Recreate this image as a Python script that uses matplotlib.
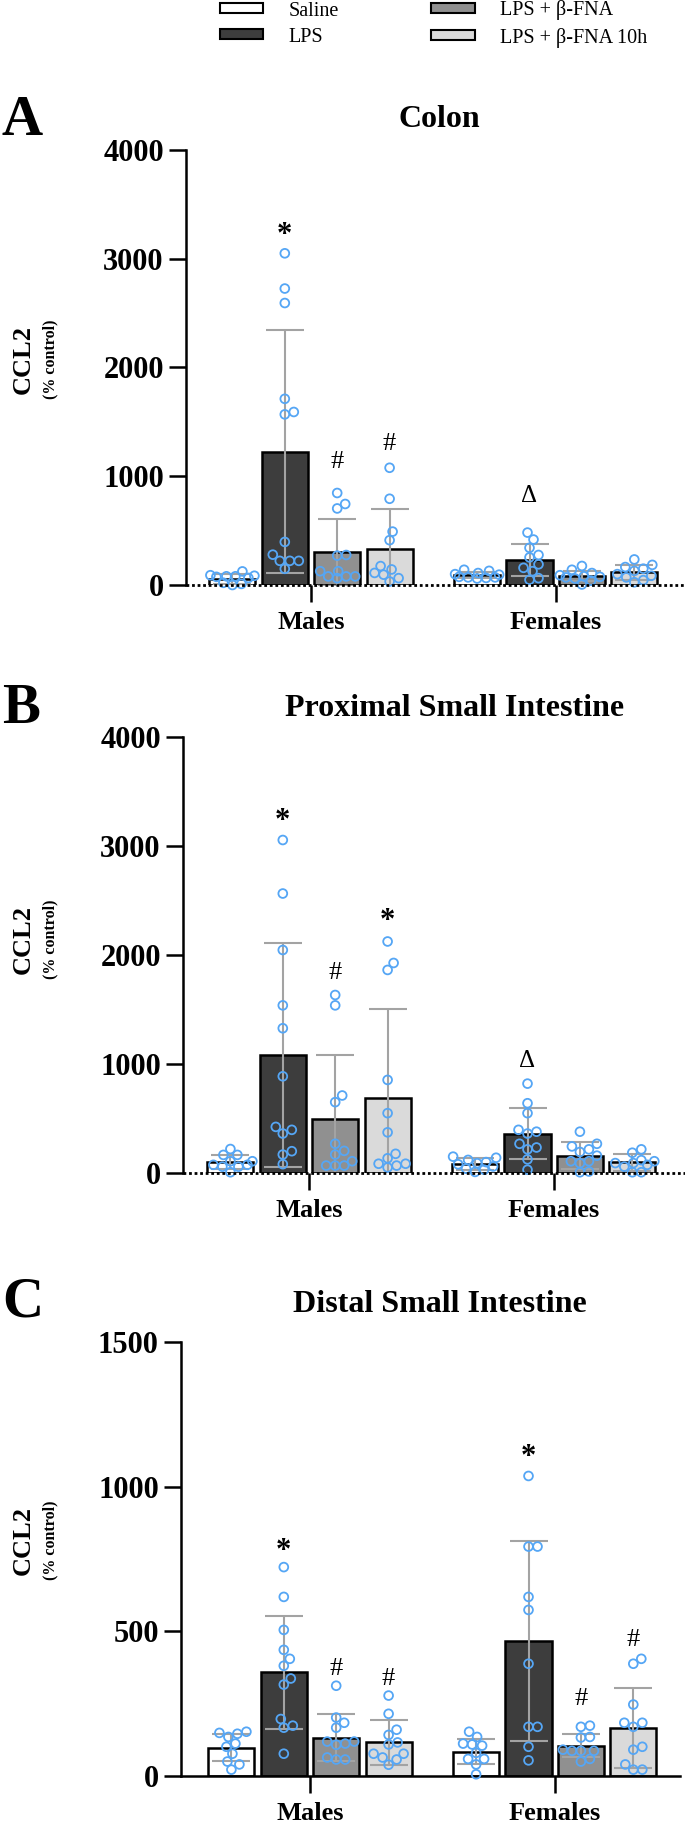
import matplotlib
matplotlib.use('Agg')
import matplotlib.pyplot as plt
from matplotlib.patches import Patch
import numpy as np

plt.rcParams['font.family'] = ['Liberation Serif', 'DejaVu Serif']

groups = ['Males', 'Females']
treatments = ['Saline', 'LPS', 'LPS + β-FNA', 'LPS + β-FNA 10h']

# bar means and SD, order: Males x4 then Females x4
colon_means = [55, 1227, 300, 333, 90, 231, 80, 115]
colon_sd = [45, 1120, 310, 365, 30, 145, 45, 70]
colon_points = [
    [85, 125, 10, 80, 20, 80, 0, 75, 65, 90],
    [222, 149, 279, 396, 3050, 2726, 2593, 1712, 1569, 1591, 222, 222],
    [846, 704, 745, 270, 276, 63, 127, 127, 79, 79, 79],
    [1078, 793, 491, 412, 174, 143, 111, 95, 63, 32],
    [140, 75, 130, 70, 70, 100, 95, 65, 60, 110],
    [482, 418, 342, 276, 254, 190, 158, 127, 63, 48],
    [110, 175, 140, 80, 75, 60, 5, 70, 90, 40],
    [150, 185, 235, 70, 130, 100, 165, 25, 45, 85],
]
colon_marks = [('*', 0, 1, 3217), ('#', 0, 2, 1132), ('#', 0, 3, 1300), ('Δ', 1, 1, 815)]

psi_means = [102, 1080, 498, 684, 85, 362, 159, 98]
psi_sd = [64, 1027, 586, 820, 57, 231, 126, 78]
psi_points = [
    [166, 220, 166, 58, 75, 75, 7, 58, 108, 108],
    [423, 200, 3055, 2564, 2046, 1538, 1328, 887, 362, 81, 169, 396],
    [711, 650, 1633, 1538, 268, 203, 169, 68, 108, 68, 68],
    [1863, 2124, 1927, 854, 549, 373, 176, 135, 85, 51, 85, 68],
    [140, 120, 150, 80, 60, 40, 30, 10, 100, 90],
    [820, 640, 549, 396, 234, 362, 268, 379, 217, 125, 30],
    [379, 268, 244, 193, 217, 159, 108, 108, 7, 14, 90],
    [186, 217, 91, 91, 118, 108, 7, 7, 58, 75],
]
psi_marks = [('*', 0, 1, 3224), ('#', 0, 2, 1836), ('*', 0, 3, 2310), ('Δ', 1, 1, 1023)]

dsi_means = [98, 358, 133, 116, 84, 467, 105, 167]
dsi_sd = [46, 196, 80, 79, 44, 345, 41, 138]
dsi_points = [
    [135, 149, 153, 146, 77, 112, 101, 22, 40, 50],
    [722, 619, 505, 436, 405, 381, 316, 337, 197, 167, 174, 77],
    [312, 202, 184, 167, 119, 108, 112, 119, 57, 64, 57],
    [278, 215, 160, 142, 116, 109, 77, 77, 57, 64, 39],
    [135, 153, 80, 109, 105, 112, 59, 59, 40, 6],
    [1037, 793, 793, 619, 574, 388, 170, 170, 101, 54],
    [170, 174, 135, 133, 91, 87, 87, 87, 50, 59],
    [405, 388, 247, 184, 170, 184, 101, 91, 40, 22, 22],
]
dsi_marks = [('*', 0, 1, 775), ('#', 0, 2, 371), ('#', 0, 3, 336),
             ('*', 1, 1, 1102), ('#', 1, 2, 267), ('#', 1, 3, 471)]

bar_colors = ['white', '#3d3d3d', '#909090', '#dadada']
dot_color = '#55a6f5'
err_color = '#a3a3a3'

W, H = 685, 1826
PITCH = 52.4   # px per bar slot
GAP = 4.67     # distance between group centres, in bar slots

panels = [
    dict(letter='A', title='Colon', means=colon_means, sd=colon_sd, points=colon_points,
         marks=colon_marks, ymax=4000, yticks=[0, 1000, 2000, 3000, 4000],
         box=(186, 150, 685, 585), males_px=311, dotted=True,
         letter_y=135, title_x=439, title_y=127, label_y=359),
    dict(letter='B', title='Proximal Small Intestine', means=psi_means, sd=psi_sd, points=psi_points,
         marks=psi_marks, ymax=4000, yticks=[0, 1000, 2000, 3000, 4000],
         box=(183, 737, 685, 1173), males_px=309, dotted=True,
         letter_y=723, title_x=455, title_y=716, label_y=939),
    dict(letter='C', title='Distal Small Intestine', means=dsi_means, sd=dsi_sd, points=dsi_points,
         marks=dsi_marks, ymax=1500, yticks=[0, 500, 1000, 1500],
         box=(181, 1342, 680, 1776), males_px=310, dotted=False,
         letter_y=1316, title_x=440, title_y=1312, label_y=1540),
]


def swarm(vals, ppu_x, ppu_y, d=9.0, max_off=22):
    # simple beeswarm: push overlapping points sideways
    vals = np.asarray(vals, dtype=float)
    cands = [0.0]
    for k in np.arange(1, max_off + 1, 1.0):
        cands += [k, -k]
    placed = []
    xs = np.zeros(len(vals))
    for i in np.argsort(vals, kind='stable'):
        y = vals[i] * ppu_y
        best, best_pen = 0.0, np.inf
        for c in cands:
            pen = sum(max(0.0, d - np.hypot(c - px, y - py)) for px, py in placed)
            if pen == 0:
                best = c
                break
            if pen < best_pen:
                best, best_pen = c, pen
        xs[i] = best
        placed.append((best, y))
    return xs / ppu_x


fig = plt.figure(figsize=(W / 100, H / 100), dpi=100)

for p in panels:
    l, t, r, b = p['box']
    ax = fig.add_axes([l / W, 1 - b / H, (r - l) / W, (b - t) / H])
    x0 = (l - p['males_px']) / PITCH
    x1 = (r - p['males_px']) / PITCH
    ax.set_xlim(x0, x1)
    ax.set_ylim(0, p['ymax'])
    ppu_x = PITCH
    ppu_y = (b - t) / p['ymax']

    k = 0
    for g in range(2):
        for j in range(4):
            xc = g * GAP + (j - 1.5)
            ax.bar(xc, p['means'][k], width=0.88, color=bar_colors[j], edgecolor='black',
                   linewidth=1.8, zorder=2)
            ax.errorbar(xc, p['means'][k], yerr=p['sd'][k], fmt='none', ecolor=err_color,
                        elinewidth=1.5, capsize=14, capthick=1.5, zorder=3)
            offs = swarm(p['points'][k], ppu_x, ppu_y)
            ax.scatter(xc + offs, p['points'][k], s=40, facecolors='none', edgecolors=dot_color,
                       linewidths=1.3, zorder=4, clip_on=False)
            k += 1

    for sym, g, j, yv in p['marks']:
        xc = g * GAP + (j - 1.5)
        if sym == '*':
            ax.text(xc, yv, sym, ha='center', va='center', fontsize=22, fontweight='bold')
        else:
            ax.text(xc, yv, sym, ha='center', va='center', fontsize=19 if sym == '#' else 18)

    ax.spines['top'].set_visible(False)
    ax.spines['right'].set_visible(False)
    ax.spines['left'].set_linewidth(1.8)
    ax.spines['bottom'].set_linewidth(1.8)
    if p['dotted']:
        ax.spines['bottom'].set_visible(False)
        ax.axhline(0, color='black', lw=2.0, ls=(0, (1, 1)), zorder=5, clip_on=False)

    ax.set_yticks(p['yticks'])
    ax.set_yticklabels([str(v) for v in p['yticks']], fontsize=22, fontweight='bold')
    ax.set_xticks([0, GAP])
    ax.set_xticklabels(groups, fontsize=19, fontweight='bold')
    ax.tick_params(axis='y', direction='out', length=12, width=1.8, pad=4)
    ax.tick_params(axis='x', direction='out', length=12, width=1.8, pad=7)

    fig.text(2 / W, 1 - p['letter_y'] / H, p['letter'], fontsize=41, fontweight='bold',
             ha='left', va='baseline')
    fig.text(p['title_x'] / W, 1 - p['title_y'] / H, p['title'], fontsize=23, fontweight='bold',
             ha='center', va='baseline')
    fig.text(23 / W, 1 - p['label_y'] / H, 'CCL2', rotation=90, fontsize=19, fontweight='bold',
             ha='center', va='center')
    fig.text(50 / W, 1 - p['label_y'] / H, '(% control)', rotation=90, fontsize=11.5,
             fontweight='bold', ha='center', va='center')

handles = [Patch(facecolor=c, edgecolor='black', linewidth=1.5, label=n)
           for c, n in zip(bar_colors, treatments)]
fig.legend(handles=handles, ncol=2, loc='upper left', bbox_to_anchor=(220 / W, 1 - 0.5 / H),
           frameon=False, fontsize=14.5, handlelength=2.15, handleheight=0.4,
           handletextpad=1.25, columnspacing=4.6, labelspacing=0.35, borderpad=0,
           borderaxespad=0)

fig.savefig('out.png', dpi=100)
